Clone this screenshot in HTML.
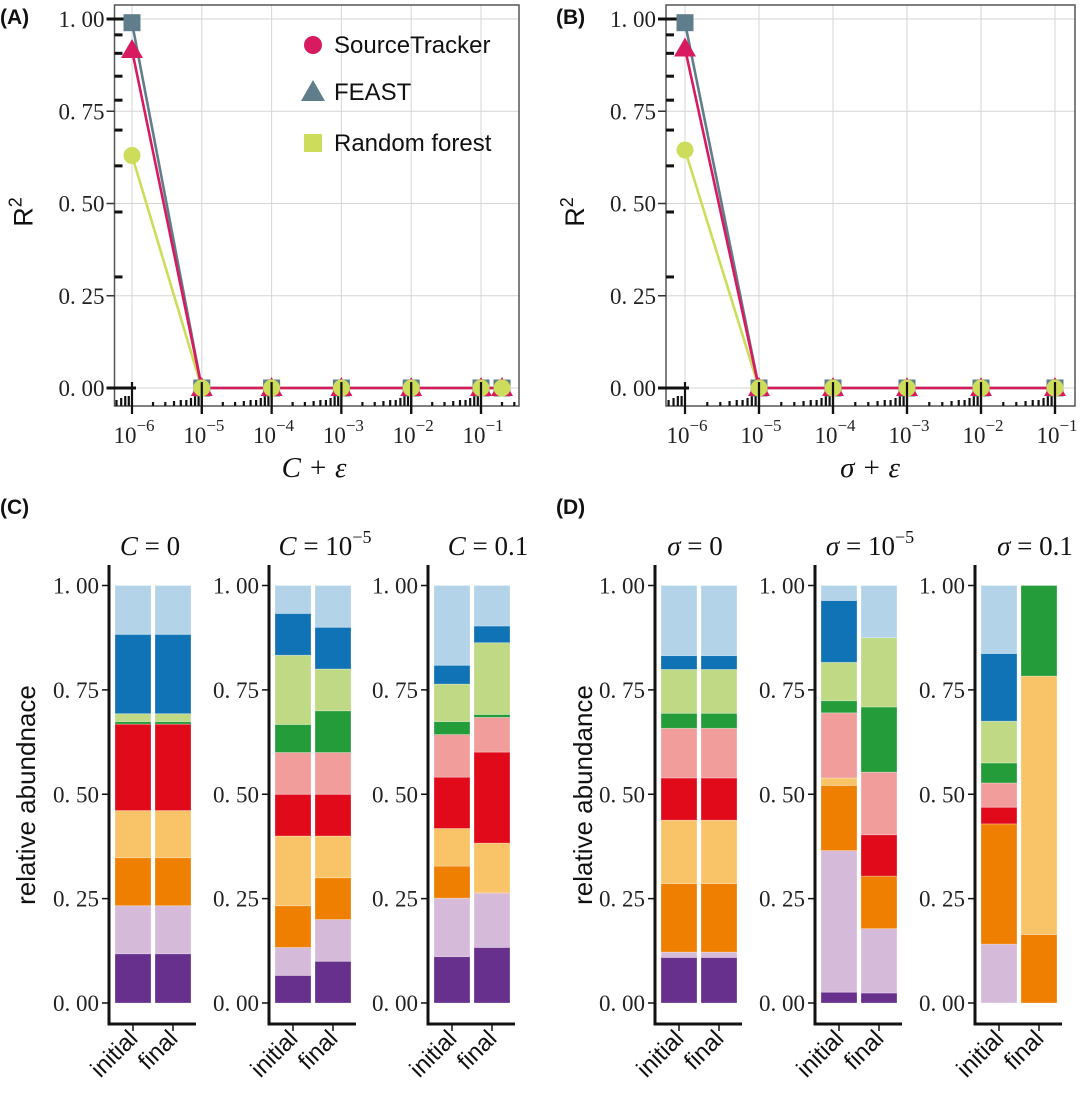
<!DOCTYPE html>
<html><head><meta charset="utf-8"><title>R2 and abundance</title>
<style>
html,body{margin:0;padding:0;background:#fff;}
svg{display:block;}
.tk{font-family:"Liberation Serif",serif;font-size:23px;fill:#222;}
.sans{font-family:"Liberation Sans",sans-serif;}
</style></head>
<body>
<svg id="fig" width="1080" height="1098" viewBox="0 0 1080 1098" xmlns="http://www.w3.org/2000/svg"></svg>
<script>
// ===== Panel A/B data =====
const xExpA = [-6, -5, -4, -3, -2, -1, -0.699];
const feastA = [0.99, 0, 0, 0, 0, 0, 0];
const stA = [0.916, 0, 0, 0, 0, 0, 0];
const rfA = [0.63, 0, 0, 0, 0, 0, 0];
const xExpB = [-6, -5, -4, -3, -2, -1];
const feastB = [0.99, 0, 0, 0, 0, 0];
const stB = [0.92, 0, 0, 0, 0, 0];
const rfB = [0.645, 0, 0, 0, 0, 0];
const yTicks = [0, 0.25, 0.5, 0.75, 1.0];
const yTickLabels = ["0. 00", "0. 25", "0. 50", "0. 75", "1. 00"];
const xDecades = [-6, -5, -4, -3, -2, -1];
const rugY = [0.957, 0.907, 0.845, 0.78, 0.699, 0.602, 0.477, 0.301];
// ===== Panel C/D data (bottom to top segments) =====
const taxaColors = ["#67308c","#d5bbd9","#ef7f00","#f9c468","#e00a1a","#f19d9c","#259c3a","#bfd985","#1073b5","#b3d3e8"];
const barLabels = ["initial","final"];
const c0Init = [.118,.115,.115,.113,.207,0,.006,.019,.19,.117];
const c0Final = [.118,.115,.115,.113,.207,0,.006,.019,.19,.117];
const c1Init = [.066,.067,.10,.167,.10,.10,.067,.166,.10,.067];
const c1Final = [.10,.10,.10,.10,.10,.10,.10,.10,.10,.10];
const c2Init = [.111,.14,.077,.09,.123,.102,.031,.09,.045,.191];
const c2Final = [.133,.13,.002,.118,.218,.083,.007,.172,.04,.097];
const d0Init = [.109,.013,.164,.152,.101,.119,.036,.105,.033,.168];
const d0Final = [.109,.013,.164,.152,.101,.119,.036,.105,.033,.168];
const d1Init = [.026,.339,.156,.018,0,.156,.029,.092,.148,.036];
const d1Final = [.024,.154,.126,0,.099,.15,.156,.166,0,.125];
const d2Init = [0,.141,.288,0,.04,.058,.048,.1,.162,.163];
const d2Final = [0,0,.164,.619,0,0,.217,0,0,0];
const barTicks = [0, 0.25, 0.5, 0.75, 1.0];

const NS = "http://www.w3.org/2000/svg";
const svg = document.getElementById("fig");
function mk(tag, attrs, parent, text) {
  const e = document.createElementNS(NS, tag);
  for (const k in attrs) e.setAttribute(k, attrs[k]);
  if (text !== undefined) e.textContent = text;
  (parent || svg).appendChild(e);
  return e;
}
const COL_ST = "#d81b60", COL_FE = "#607d8b", COL_RF = "#cddc5a";

function linePanel(o) {
  const g = mk("g", {});
  
  
  const sx = e => o.x0 + (e + 6) * o.dec;
  const sy = v => 388 - v * 369;
  yTicks.forEach(v => mk("line", {x1:o.left, x2:o.right, y1:sy(v), y2:sy(v), stroke:"#d6d6d6", "stroke-width":1}, g));
  xDecades.forEach(d => mk("line", {x1:sx(d), x2:sx(d), y1:5, y2:406, stroke:"#d6d6d6", "stroke-width":1}, g));
  const box = mk("rect", {x:o.left, y:5, width:o.right-o.left, height:401, fill:"none", stroke:"#555", "stroke-width":1.5}, g);
  
  
  yTicks.forEach((v, i) => {
    mk("line", {x1:o.left-8, x2:o.left, y1:sy(v), y2:sy(v), stroke:"#333", "stroke-width":1.5}, g);
    const t = mk("text", {x:o.left-10, y:sy(v)+8, "text-anchor":"end", class:"tk"}, g, yTickLabels[i]);
    
    
  });
  rugY.forEach(v => mk("line", {x1:o.left, x2:o.left+8, y1:sy(v), y2:sy(v), stroke:"#111", "stroke-width":3}, g));
  mk("line", {x1:o.left-8, x2:sx(-6)+4, y1:sy(1), y2:sy(1), stroke:"#111", "stroke-width":3}, g);
  mk("line", {x1:o.left-8, x2:sx(-6)+4, y1:sy(0), y2:sy(0), stroke:"#111", "stroke-width":3}, g);
  const minorH = {2:4,3:4,4:5,5:6,6:6,7:8,8:10,9:10};
  for (let d = -7; d <= 0; d++) {
    for (let m = 2; m <= 9; m++) {
      const x = o.x0 + (d + Math.log10(m) + 6) * o.dec;
      if (x <= o.left + 1 || x >= o.right - 1) continue;
      mk("line", {x1:x, x2:x, y1:406, y2:406-minorH[m], stroke:"#111", "stroke-width":2.2}, g);
    }
  }
  xDecades.forEach(d => {
    mk("line", {x1:sx(d), x2:sx(d), y1:sy(0)-6, y2:414, stroke:"#111", "stroke-width":2.2}, g);
    const t = mk("text", {x:sx(d)+2, y:443, "text-anchor":"middle", class:"tk"}, g);
    
    
    mk("tspan", {}, t, "10");
    mk("tspan", {dy:-12, "font-size":"17px"}, t, "\u2212" + Math.abs(d));
  });
  const series = [[o.rf, COL_RF, "random-forest"], [o.fe, COL_FE, "feast"], [o.st, COL_ST, "sourcetracker"]];
  series.forEach(([vals, col, nm]) => {
    const pts = vals.map((v, i) => sx(o.xs[i]) + "," + sy(v)).join(" ");
    const pl = mk("polyline", {points:pts, fill:"none", stroke:col, "stroke-width":2.6}, g);
    
    
  });
  o.xs.forEach((e, i) => {
    const x = sx(e);
    const sq = mk("rect", {x:x-8.5, y:sy(o.fe[i])-8.5, width:17, height:17, fill:COL_FE}, g);
    
    
    const ty = sy(o.st[i]);
    const tr = mk("polygon", {points:`${x},${ty-11} ${x-11},${ty+8} ${x+11},${ty+8}`, fill:COL_ST}, g);
    
    
    const c = mk("circle", {cx:x, cy:sy(o.rf[i]), r:8.5, fill:COL_RF}, g);
    
    
  });
  xDecades.slice(1).forEach(d => mk("line", {x1:sx(d), x2:sx(d), y1:sy(0)-6, y2:414, stroke:"#111", "stroke-width":2.2}, g));
  const yt = mk("text", {x:0, y:0, transform:`translate(${o.left-82},212) rotate(-90)`, "text-anchor":"middle", class:"sans", "font-size":"27px", fill:"#111"}, g);
  
  
  mk("tspan", {}, yt, "R");
  mk("tspan", {dy:-11, "font-size":"18px"}, yt, "2");
  const xt = mk("text", {x:o.titleX, y:477, "text-anchor":"middle", "font-family":"Liberation Serif, serif", "font-size":"29px", "font-style":"italic", fill:"#111"}, g, o.title);
  
  
}

linePanel({name:"panel-a-chart", left:114.5, right:519, x0:132, dec:69.8, xs:xExpA, fe:feastA, st:stA, rf:rfA, title:"C  +  \u03B5", titleX:314});
linePanel({name:"panel-b-chart", left:666, right:1075, x0:685, dec:74, xs:xExpB, fe:feastB, st:stB, rf:rfB, title:"\u03C3  +  \u03B5", titleX:870});

const leg = mk("g", {});


const legItems = [["SourceTracker", 45], ["FEAST", 92], ["Random forest", 143]];
legItems.forEach(([lab, y], i) => {
  const e = mk("g", {}, leg);
  
  
  if (i === 0) mk("circle", {cx:313, cy:y, r:9, fill:COL_ST}, e);
  if (i === 1) mk("polygon", {points:`313,${y-12} 301,${y+9} 325,${y+9}`, fill:COL_FE}, e);
  if (i === 2) mk("rect", {x:304, y:y-9, width:18, height:18, fill:COL_RF}, e);
  mk("text", {x:334, y:y+8, class:"sans", "font-size":"24px", fill:"#111"}, e, lab);
});

[["(A)",0,24],["(B)",556,24],["(C)",0,514],["(D)",556,514]].forEach(([t,x,y]) => {
  const e = mk("text", {x:x, y:y, class:"sans", "font-size":"21px", "font-weight":"bold", fill:"#111"}, svg, t);
  
  
});

function barSubplot(axisX, init, fin, title, titleSup, titleX) {
  const g = mk("g", {});
  
  
  const sy = v => 1003 - v * 417.5;
  const bars = [[axisX+6, init], [axisX+46, fin]];
  bars.forEach(([bx, vals], bi) => {
    let acc = 0;
    vals.forEach((v, k) => {
      if (v <= 0) return;
      const r = mk("rect", {x:bx, y:sy(acc+v), width:36, height:v*417.5, fill:taxaColors[k], stroke:"rgba(255,255,255,0.35)", "stroke-width":0.8}, g);
      
      
      acc += v;
    });
    const cx = bx + 18;
    mk("line", {x1:cx, x2:cx, y1:1024, y2:1031, stroke:"#111", "stroke-width":1.5}, g);
    const lt = mk("text", {x:0, y:0, transform:`translate(${cx+6},1040) rotate(-45)`, "text-anchor":"end", class:"sans", "font-size":"24px", fill:"#111"}, g, barLabels[bi]);
    
    
  });
  mk("line", {x1:axisX, x2:axisX, y1:565, y2:1025, stroke:"#111", "stroke-width":3}, g);
  mk("line", {x1:axisX-1.5, x2:axisX+87, y1:1024, y2:1024, stroke:"#111", "stroke-width":3}, g);
  barTicks.forEach((v, i) => {
    mk("line", {x1:axisX-7, x2:axisX, y1:sy(v), y2:sy(v), stroke:"#111", "stroke-width":1.5}, g);
    const t = mk("text", {x:axisX-10, y:sy(v)+8, "text-anchor":"end", class:"tk"}, g, yTickLabels[i]);
    
    
  });
  const tt = mk("text", {x:titleX, y:555, "text-anchor":"middle", "font-family":"Liberation Serif, serif", "font-size":"27px", fill:"#111"}, g);
  
  
  mk("tspan", {"font-style":"italic"}, tt, title[0]);
  mk("tspan", {}, tt, title[1]);
  if (titleSup) mk("tspan", {dy:-12, "font-size":"18px"}, tt, titleSup);
}
barSubplot(109, c0Init, c0Final, ["C", " = 0"], null, 150);
barSubplot(269, c1Init, c1Final, ["C", " = 10"], "\u22125", 325);
barSubplot(428, c2Init, c2Final, ["C", " = 0.1"], null, 488);
barSubplot(655, d0Init, d0Final, ["\u03C3", " = 0"], null, 695);
barSubplot(815, d1Init, d1Final, ["\u03C3", " = 10"], "\u22125", 870);
barSubplot(975, d2Init, d2Final, ["\u03C3", " = 0.1"], null, 1035);

[["relative abundnace", 35], ["relative abundance", 592]].forEach(([t, x]) => {
  const e = mk("text", {x:0, y:0, transform:`translate(${x},795) rotate(-90)`, "text-anchor":"middle", class:"sans", "font-size":"26px", fill:"#111"}, svg, t);
  
  
});
</script>
</body></html>
